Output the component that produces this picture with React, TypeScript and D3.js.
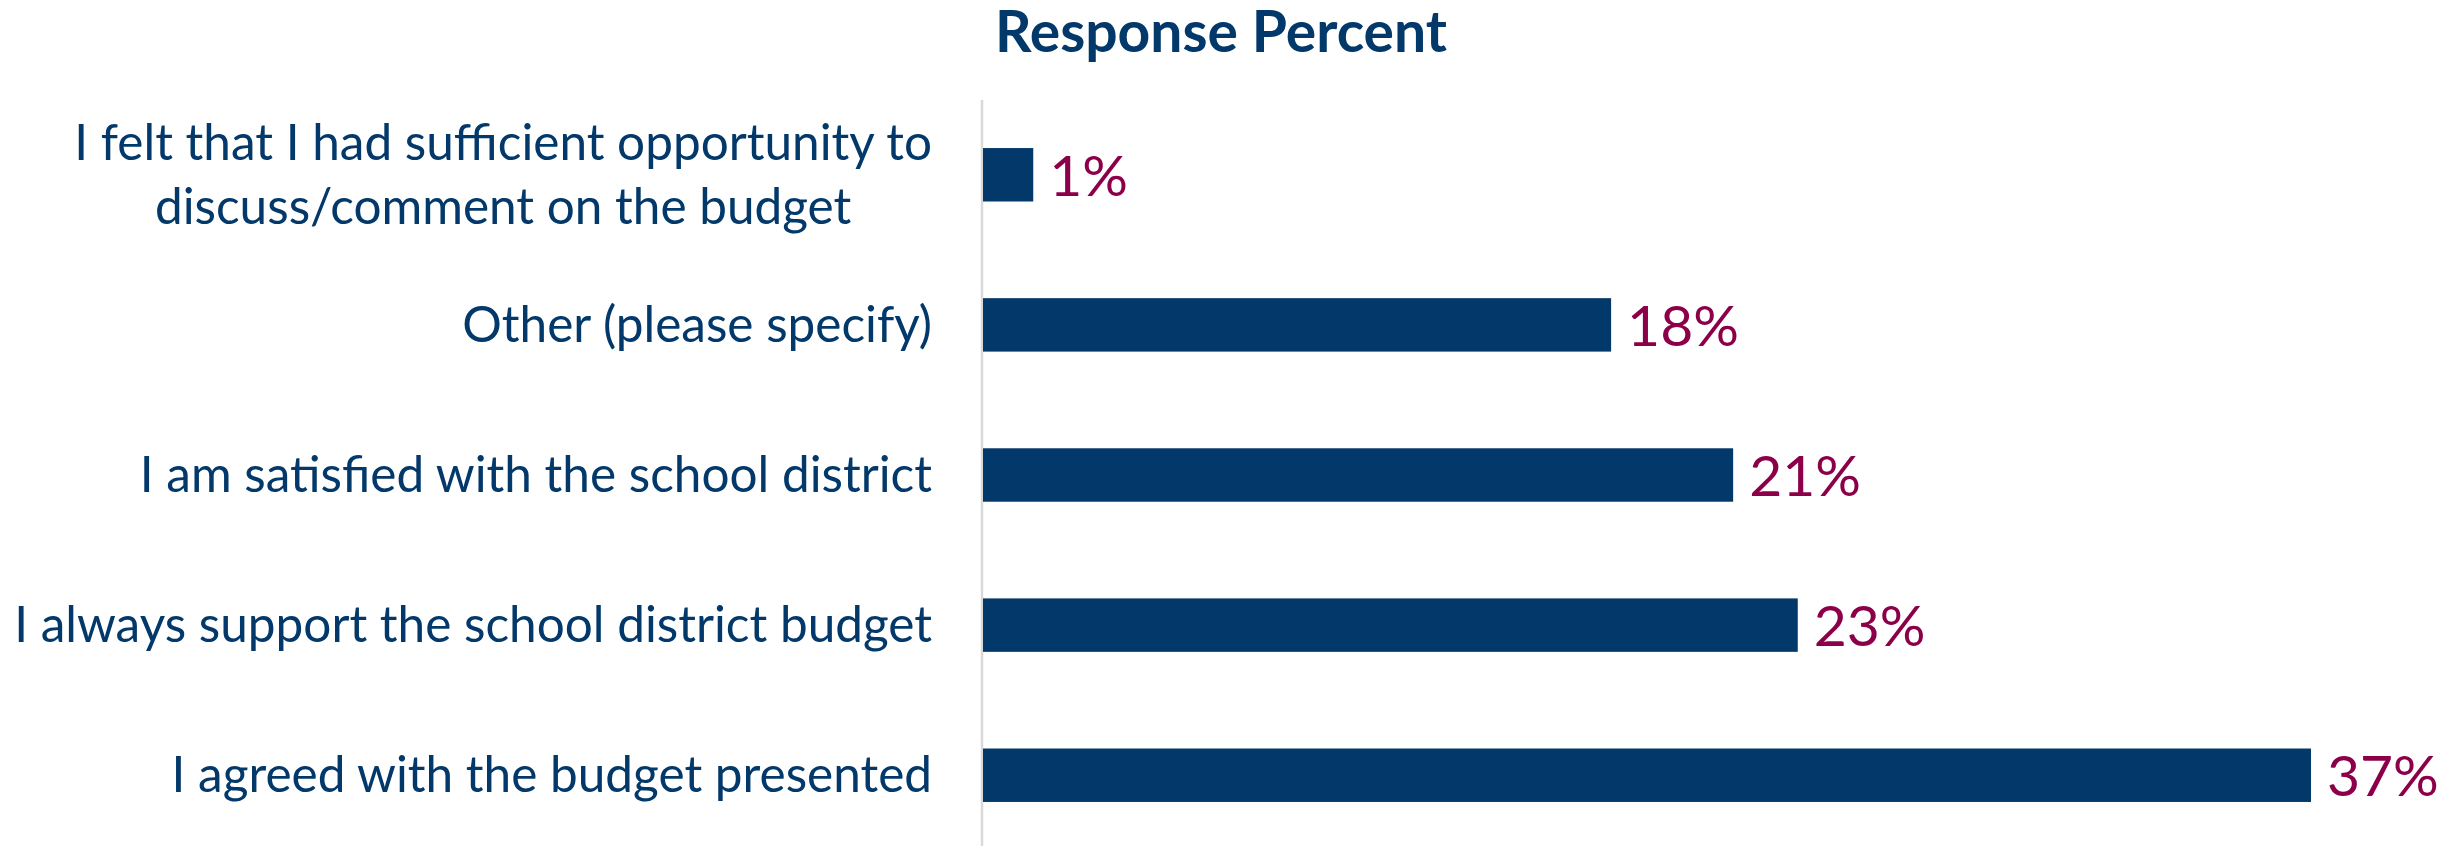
import React, { useEffect, useRef } from "react";
import * as d3 from "d3";

const title = "Response Percent";
const categoryLines: string[][] = [
  ["I felt that I had sufficient opportunity to", "discuss/comment on the budget"],
  ["Other (please specify)"],
  ["I am satisfied with the school district"],
  ["I always support the school district budget"],
  ["I agreed with the budget presented"],
];
const values: number[] = [1.4, 17.5, 20.9, 22.7, 37.0];

const W = 2458;
const H = 846;
const NAVY = "#02386A";
const CRIMSON = "#8C004A";
const FONT = "Lato, 'Open Sans', sans-serif";

export default function App() {
  const ref = useRef<SVGSVGElement | null>(null);

  useEffect(() => {
    const svg = d3.select(ref.current);
    svg.selectAll("*").remove();

    const idx = values.map((_, i) => i);
    const x = d3.scaleLinear().domain([0, d3.max(values) as number]).range([983, 2311]);
    const y = d3
      .scaleBand<number>()
      .domain(idx)
      .range([73, 877])
      .paddingInner(0.644)
      .paddingOuter(0.5);

    svg
      .append("text")
      .attr("x", 1221)
      .attr("y", 52)
      .attr("text-anchor", "middle")
      .attr("font-family", FONT)
      .attr("font-weight", 700)
      .attr("font-size", 57)
      .attr("fill", NAVY)
      .text(title);

    svg
      .append("line")
      .attr("x1", x(0) - 1)
      .attr("x2", x(0) - 1)
      .attr("y1", 100)
      .attr("y2", H)
      .attr("stroke", "#d9d9d9")
      .attr("stroke-width", 2.5);

    svg
      .selectAll("rect.bar")
      .data(idx)
      .join("rect")
      .attr("class", "bar")
      .attr("x", x(0))
      .attr("y", (i) => y(i) as number)
      .attr("width", (i) => x(values[i]) - x(0))
      .attr("height", y.bandwidth())
      .attr("fill", NAVY);

    svg
      .selectAll("text.val")
      .data(idx)
      .join("text")
      .attr("class", "val")
      .attr("x", (i) => x(values[i]) + 16)
      .attr("y", (i) => (y(i) as number) + y.bandwidth() / 2 + 21)
      .attr("font-family", FONT)
      .attr("font-size", 57)
      .attr("fill", CRIMSON)
      .text((i) => `${Math.round(values[i])}%`);

    const rightEdge = x(0) - 51;
    const lineH = 63.5;
    idx.forEach((i) => {
      const lines = categoryLines[i];
      const cy = (y(i) as number) + y.bandwidth() / 2;
      const t = svg
        .append("text")
        .attr("font-family", FONT)
        .attr("font-size", 49.5)
        .attr("fill", NAVY);
      const spans = lines.map((ln, k) =>
        t
          .append("tspan")
          .attr("y", cy + 17 + (k - (lines.length - 1) / 2) * lineH)
          .text(ln)
      );
      if (lines.length === 1) {
        t.attr("text-anchor", "end");
        spans.forEach((s) => s.attr("x", rightEdge));
      } else {
        const widths = spans.map((s) => (s.node() as SVGTSpanElement).getComputedTextLength());
        const maxW = Math.max(...widths);
        t.attr("text-anchor", "middle");
        spans.forEach((s) => s.attr("x", rightEdge - maxW / 2));
      }
    });
  }, []);

  return (
    <svg
      ref={ref}
      width={W}
      height={H}
      style={{ position: "absolute", left: 0, top: 0, background: "#fff" }}
    />
  );
}
